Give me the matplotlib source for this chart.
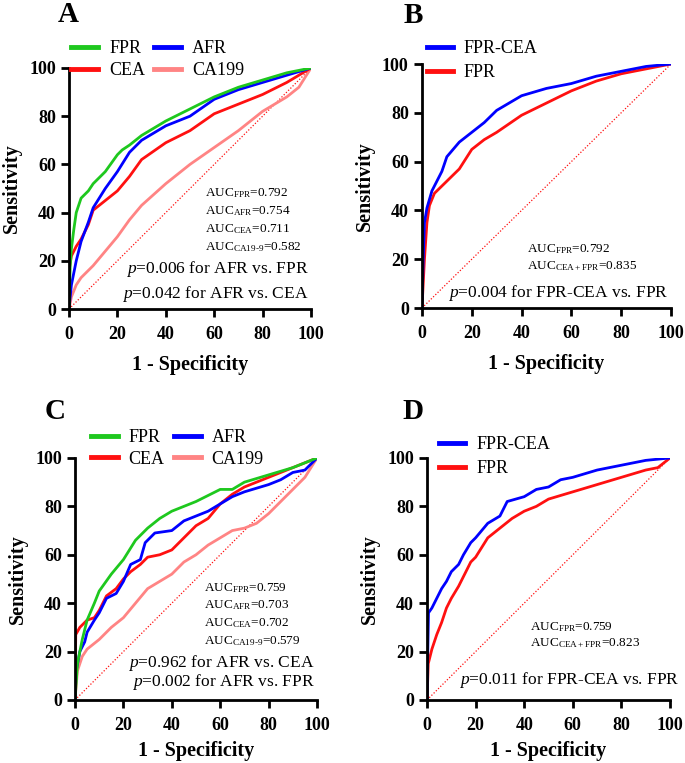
import matplotlib
matplotlib.use('Agg')
import matplotlib.pyplot as plt

plt.rcParams['font.family'] = ['Liberation Serif', 'DejaVu Serif']
plt.rcParams['mathtext.fontset'] = 'custom'
plt.rcParams['mathtext.rm'] = 'Liberation Serif'
plt.rcParams['mathtext.it'] = 'Liberation Serif:italic'

GREEN = '#1ec81e'
BLUE = '#0000ff'
RED = '#ff1010'
PINK = '#ff8484'

# панель A: обучающая выборка
a_fpr_x = [0, 0.5, 1, 2, 3, 5, 8, 10, 15, 20, 22, 25, 30, 40, 50, 60, 70, 80, 90, 100]
a_fpr_y = [0, 18, 25, 33, 40, 46, 49, 52, 57, 64, 66, 68, 72, 78, 83, 88, 92, 95, 98, 100]
a_afr_x = [0, 0.5, 1, 3, 5, 8, 10, 15, 20, 25, 30, 40, 50, 60, 70, 80, 90, 100]
a_afr_y = [0, 5, 10, 20, 28, 36, 42, 50, 57, 65, 70, 76, 80, 87, 91, 94, 97, 100]
a_cea_x = [0, 0.2, 1, 3, 5, 8, 10, 15, 20, 25, 30, 40, 50, 60, 70, 80, 84, 90, 100]
a_cea_y = [0, 17, 22, 26, 29, 35, 41, 45, 49, 55, 62, 69, 74, 81, 85, 89, 91, 94, 100]
a_ca_x = [0, 1, 3, 5, 10, 15, 20, 25, 30, 40, 50, 60, 70, 80, 90, 95, 100]
a_ca_y = [0, 5, 10, 13, 18, 24, 30, 37, 43, 52, 60, 67, 74, 82, 88, 92, 100]

# панель B
b_comb_x = [0, 0.5, 1, 2, 4, 6, 8, 10, 15, 20, 25, 30, 40, 50, 60, 70, 80, 90, 100]
b_comb_y = [0, 20, 35, 41, 48, 52, 56, 62, 68, 72, 76, 81, 87, 90, 92, 95, 97, 99, 100]
b_fpr_x = [0, 1, 2, 3, 5, 8, 10, 15, 20, 25, 30, 40, 50, 60, 70, 80, 90, 100]
b_fpr_y = [0, 20, 35, 42, 47, 50, 52, 57, 65, 69, 72, 79, 84, 89, 93, 96, 98, 100]

# панель C: проверочная выборка
c_fpr_x = [0, 1, 3, 5, 8, 10, 15, 20, 25, 30, 35, 40, 50, 60, 65, 70, 80, 90, 100]
c_fpr_y = [0, 15, 25, 33, 40, 45, 52, 58, 66, 71, 75, 78, 82, 87, 87, 90, 93, 96, 100]
c_afr_x = [0, 0.5, 2, 4, 5, 8, 10, 13, 17, 20, 23, 27, 29, 33, 40, 45, 50, 55, 60,
           65, 70, 80, 85, 90, 95, 100]
c_afr_y = [0, 12, 20, 24, 28, 33, 36, 42, 44, 49, 56, 58, 65, 69, 70, 74, 76, 78, 81,
           84, 86, 89, 91, 94, 95, 100]
c_cea_x = [0, 0.3, 2, 5, 8, 10, 13, 17, 20, 23, 27, 30, 35, 40, 45, 50, 55, 60, 65,
           70, 75, 80, 85, 90, 100]
c_cea_y = [0, 27, 30, 33, 34, 37, 43, 46, 50, 53, 56, 59, 60, 62, 67, 72, 75, 81, 85,
           88, 90, 92, 94, 96, 100]
c_ca_x = [0, 1, 3, 5, 10, 15, 20, 25, 30, 35, 40, 45, 50, 55, 60, 65, 70, 75, 80,
          85, 90, 95, 100]
c_ca_y = [0, 12, 18, 21, 25, 30, 34, 40, 46, 49, 52, 57, 60, 64, 67, 70, 71, 73, 77,
          82, 87, 92, 100]

# панель D
d_comb_x = [0, 0.3, 0.6, 2, 4, 6, 8, 10, 13, 15, 18, 20, 25, 30, 33, 40, 45, 50, 55,
            60, 70, 80, 90, 100]
d_comb_y = [0, 20, 36, 38, 42, 46, 49, 53, 56, 60, 65, 67, 73, 76, 82, 84, 87, 88, 91,
            92, 95, 97, 99, 100]
d_fpr_x = [0, 0.5, 2, 4, 6, 8, 10, 13, 15, 18, 20, 25, 30, 35, 40, 45, 50, 60, 70,
           80, 90, 95, 100]
d_fpr_y = [0, 15, 21, 27, 32, 38, 42, 47, 51, 57, 59, 67, 71, 75, 78, 80, 83, 86, 89,
           92, 95, 96, 100]

ticks = [0, 20, 40, 60, 80, 100]


def setup_axes(ax, letter, lx, ly, xpad):  # оси в стиле GraphPad
    ax.plot([0, 100], [0, 100], color=RED, lw=0.9, ls=(0, (1, 1.5)), zorder=1)
    ax.set_xlim(0, 100)
    ax.set_ylim(0, 100)
    ax.set_xticks(ticks)
    ax.set_yticks(ticks)
    for s in ['top', 'right']:
        ax.spines[s].set_visible(False)
    for s in ['left', 'bottom']:
        ax.spines[s].set_linewidth(2)
    ax.tick_params(width=2, length=6, labelsize=13)
    ax.tick_params(axis='x', pad=6)
    for lab in ax.get_xticklabels() + ax.get_yticklabels():
        lab.set_fontweight('bold')
    ax.set_xlabel('1 - Specificity', fontsize=14.5, fontweight='bold', labelpad=xpad)
    ax.set_ylabel('Sensitivity', fontsize=14.5, fontweight='bold', labelpad=5)
    ax.text(lx, ly, letter, transform=ax.transAxes, fontsize=21,
            fontweight='bold', ha='left', va='center')


def big_legend(ax, handles, labels, anchor, ncol, hl, ls):
    leg = ax.legend(handles, labels, ncol=ncol, loc='lower left',
                    bbox_to_anchor=anchor, frameon=False, fontsize=13,
                    handlelength=hl, handletextpad=0.6, columnspacing=0.5,
                    labelspacing=ls, borderaxespad=0, borderpad=0)
    for l in leg.get_lines():
        l.set_linewidth(3.5)


fig = plt.figure(figsize=(6.85, 7.63), dpi=100)
axA = fig.add_axes([0.1007, 0.595, 0.3533, 0.3159])
axB = fig.add_axes([0.616, 0.5963, 0.3635, 0.3198])
axC = fig.add_axes([0.1095, 0.0826, 0.3533, 0.3172])
axD = fig.add_axes([0.6234, 0.0826, 0.3547, 0.3172])

# A
setup_axes(axA, 'A', -0.045, 1.22, 9)
hA = [axA.plot(a_ca_x, a_ca_y, color=PINK, lw=2)[0],
      axA.plot(a_cea_x, a_cea_y, color=RED, lw=2)[0],
      axA.plot(a_afr_x, a_afr_y, color=BLUE, lw=2)[0],
      axA.plot(a_fpr_x, a_fpr_y, color=GREEN, lw=2)[0]]
big_legend(axA, [hA[3], hA[1], hA[2], hA[0]], ['FPR', 'CEA', 'AFR', 'CA199'],
           (0.01, 0.955), 2, 1.5, 0.25)
for i, s in enumerate([r'AUC$_{\rm FPR}$=0.792', r'AUC$_{\rm AFR}$=0.754',
                       r'AUC$_{\rm CEA}$=0.711', r'AUC$_{\rm CA19\text{-}9}$=0.582']):
    axA.text(0.56, 0.481 - i * 0.075, s, transform=axA.transAxes, fontsize=9.5,
             ha='left', va='center')
axA.text(0.99, 0.166, r'$p$=0.006 for AFR vs. FPR', transform=axA.transAxes,
         fontsize=12.5, ha='right', va='center')
axA.text(0.99, 0.062, r'$p$=0.042 for AFR vs. CEA', transform=axA.transAxes,
         fontsize=12.5, ha='right', va='center')

# B
setup_axes(axB, 'B', -0.075, 1.2, 9)
b1, = axB.plot(b_fpr_x, b_fpr_y, color=RED, lw=2)
b2, = axB.plot(b_comb_x, b_comb_y, color=BLUE, lw=2)
big_legend(axB, [b2, b1], ['FPR-CEA', 'FPR'], (0.02, 0.93), 1, 1.45, 0.4)
axB.text(0.42, 0.242, r'AUC$_{\rm FPR}$=0.792', transform=axB.transAxes,
         fontsize=9.5, ha='left', va='center')
axB.text(0.42, 0.172, r'AUC$_{\rm CEA+FPR}$=0.835', transform=axB.transAxes,
         fontsize=9.5, ha='left', va='center')
axB.text(0.99, 0.061, r'$p$=0.004 for FPR-CEA vs. FPR', transform=axB.transAxes,
         fontsize=12.5, ha='right', va='center')

# C
setup_axes(axC, 'C', -0.125, 1.19, 5)
hC = [axC.plot(c_ca_x, c_ca_y, color=PINK, lw=2)[0],
      axC.plot(c_cea_x, c_cea_y, color=RED, lw=2)[0],
      axC.plot(c_afr_x, c_afr_y, color=BLUE, lw=2)[0],
      axC.plot(c_fpr_x, c_fpr_y, color=GREEN, lw=2)[0]]
big_legend(axC, [hC[3], hC[1], hC[2], hC[0]], ['FPR', 'CEA', 'AFR', 'CA199'],
           (0.065, 0.96), 2, 1.5, 0.25)
for i, s in enumerate([r'AUC$_{\rm FPR}$=0.759', r'AUC$_{\rm AFR}$=0.703',
                       r'AUC$_{\rm CEA}$=0.702', r'AUC$_{\rm CA19\text{-}9}$=0.579']):
    axC.text(0.533, 0.463 - i * 0.073, s, transform=axC.transAxes, fontsize=9.5,
             ha='left', va='center')
axC.text(0.99, 0.153, r'$p$=0.962 for AFR vs. CEA', transform=axC.transAxes,
         fontsize=12.5, ha='right', va='center')
axC.text(0.99, 0.074, r'$p$=0.002 for AFR vs. FPR', transform=axC.transAxes,
         fontsize=12.5, ha='right', va='center')

# D
setup_axes(axD, 'D', -0.1, 1.19, 5)
d1, = axD.plot(d_fpr_x, d_fpr_y, color=RED, lw=2)
d2, = axD.plot(d_comb_x, d_comb_y, color=BLUE, lw=2)
big_legend(axD, [d2, d1], ['FPR-CEA', 'FPR'], (0.05, 0.92), 1, 1.45, 0.4)
axD.text(0.424, 0.30, r'AUC$_{\rm FPR}$=0.759', transform=axD.transAxes,
         fontsize=9.5, ha='left', va='center')
axD.text(0.424, 0.235, r'AUC$_{\rm CEA+FPR}$=0.823', transform=axD.transAxes,
         fontsize=9.5, ha='left', va='center')
axD.text(1.04, 0.083, r'$p$=0.011 for FPR-CEA vs. FPR', transform=axD.transAxes,
         fontsize=12.5, ha='right', va='center')

fig.savefig('out.png', dpi=100)
